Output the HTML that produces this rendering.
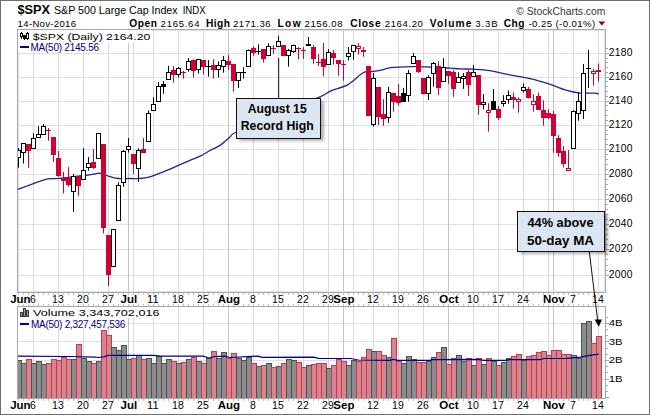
<!DOCTYPE html><html><head><meta charset="utf-8"><style>html,body{margin:0;padding:0;background:#fff}body{width:650px;height:415px;overflow:hidden}svg{display:block}text{font-family:"Liberation Sans",sans-serif}.m{font-family:"Liberation Mono",monospace}</style></head><body><svg width="650" height="415" viewBox="0 0 650 415"><rect x="0" y="0" width="650" height="415" fill="#fff"/><rect x="0.5" y="0.5" width="649" height="414" fill="none" stroke="#6e6e6e" stroke-width="1"/><text x="17.5" y="14.3" font-size="13.2" font-weight="bold" fill="#000" textLength="32.5" lengthAdjust="spacingAndGlyphs">$SPX</text><text x="54" y="14.3" font-size="11" fill="#000" textLength="123.6" lengthAdjust="spacingAndGlyphs">S&amp;P 500 Large Cap Index</text><text x="182.7" y="14.3" font-size="10" fill="#000" textLength="23" lengthAdjust="spacingAndGlyphs">INDX</text><text x="17.6" y="26.6" font-size="9.6" fill="#000" textLength="58.5" lengthAdjust="spacing">14-Nov-2016</text><text x="129.3" y="26.8" font-size="10.2" font-weight="bold" fill="#000" textLength="27.6" lengthAdjust="spacing">Open</text><text x="160.6" y="26.8" font-size="9.6"  fill="#000" textLength="38.9" lengthAdjust="spacing">2165.64</text><text x="206.0" y="26.8" font-size="10.2" font-weight="bold" fill="#000" textLength="24.0" lengthAdjust="spacing">High</text><text x="233.0" y="26.8" font-size="9.6"  fill="#000" textLength="37.6" lengthAdjust="spacing">2171.36</text><text x="277.4" y="26.8" font-size="10.2" font-weight="bold" fill="#000" textLength="23.3" lengthAdjust="spacing">Low</text><text x="304.5" y="26.8" font-size="9.6"  fill="#000" textLength="38.0" lengthAdjust="spacing">2156.08</text><text x="350.2" y="26.8" font-size="10.2" font-weight="bold" fill="#000" textLength="30.4" lengthAdjust="spacing">Close</text><text x="384.8" y="26.8" font-size="9.6"  fill="#000" textLength="38.1" lengthAdjust="spacing">2164.20</text><text x="429.7" y="26.8" font-size="10.2" font-weight="bold" fill="#000" textLength="41.8" lengthAdjust="spacing">Volume</text><text x="475.2" y="26.8" font-size="9.6"  fill="#000" textLength="22.5" lengthAdjust="spacing">3.3B</text><text x="503.8" y="26.8" font-size="10.2" font-weight="bold" fill="#000" textLength="20.7" lengthAdjust="spacing">Chg</text><text x="528.5" y="26.8" font-size="9.6"  fill="#000" textLength="66.7" lengthAdjust="spacing">-0.25 (-0.01%)</text><path d="M598.3,21.5 L605.4,21.5 L601.85,25.5 Z" fill="#a00020"/><text x="516.2" y="14.5" font-size="11" fill="#333" textLength="89.2" lengthAdjust="spacingAndGlyphs">© StockCharts.com</text><rect x="18" y="275" width="587" height="1" fill="#e0e0e0"/><rect x="18" y="249" width="587" height="1" fill="#e0e0e0"/><rect x="18" y="224" width="587" height="1" fill="#e0e0e0"/><rect x="18" y="199" width="587" height="1" fill="#e0e0e0"/><rect x="18" y="174" width="587" height="1" fill="#e0e0e0"/><rect x="18" y="149" width="587" height="1" fill="#e0e0e0"/><rect x="18" y="125" width="587" height="1" fill="#e0e0e0"/><rect x="18" y="101" width="587" height="1" fill="#e0e0e0"/><rect x="18" y="77" width="587" height="1" fill="#e0e0e0"/><rect x="18" y="53" width="587" height="1" fill="#e0e0e0"/><rect x="33" y="30" width="1" height="262" fill="#dadada"/><rect x="58" y="30" width="1" height="262" fill="#dadada"/><rect x="83" y="30" width="1" height="262" fill="#dadada"/><rect x="108" y="30" width="1" height="262" fill="#dadada"/><rect x="133" y="30" width="1" height="262" fill="#dadada"/><rect x="153" y="30" width="1" height="262" fill="#dadada"/><rect x="178" y="30" width="1" height="262" fill="#dadada"/><rect x="203" y="30" width="1" height="262" fill="#dadada"/><rect x="253" y="30" width="1" height="262" fill="#dadada"/><rect x="278" y="30" width="1" height="262" fill="#dadada"/><rect x="303" y="30" width="1" height="262" fill="#dadada"/><rect x="328" y="30" width="1" height="262" fill="#dadada"/><rect x="353" y="30" width="1" height="262" fill="#dadada"/><rect x="373" y="30" width="1" height="262" fill="#dadada"/><rect x="398" y="30" width="1" height="262" fill="#dadada"/><rect x="423" y="30" width="1" height="262" fill="#dadada"/><rect x="473" y="30" width="1" height="262" fill="#dadada"/><rect x="498" y="30" width="1" height="262" fill="#dadada"/><rect x="523" y="30" width="1" height="262" fill="#dadada"/><rect x="548" y="30" width="1" height="262" fill="#dadada"/><rect x="573" y="30" width="1" height="262" fill="#dadada"/><rect x="598" y="30" width="1" height="262" fill="#dadada"/><rect x="128" y="30" width="1" height="262" fill="#c4c4c4"/><rect x="228" y="30" width="1" height="262" fill="#c4c4c4"/><rect x="343" y="30" width="1" height="262" fill="#c4c4c4"/><rect x="448" y="30" width="1" height="262" fill="#c4c4c4"/><rect x="553" y="30" width="1" height="262" fill="#c4c4c4"/><rect x="17.5" y="29.5" width="588" height="263" fill="none" stroke="#a8a8a8" stroke-width="1"/><rect x="18.5" y="30.5" width="586" height="261" fill="none" stroke="#e4e4e4" stroke-width="1"/><rect x="606" y="275" width="3" height="1" fill="#a8a8a8"/><rect x="606" y="270" width="2" height="1" fill="#a8a8a8"/><rect x="606" y="265" width="2" height="1" fill="#a8a8a8"/><rect x="606" y="259" width="2" height="1" fill="#a8a8a8"/><rect x="606" y="254" width="2" height="1" fill="#a8a8a8"/><rect x="606" y="249" width="3" height="1" fill="#a8a8a8"/><rect x="606" y="244" width="2" height="1" fill="#a8a8a8"/><rect x="606" y="239" width="2" height="1" fill="#a8a8a8"/><rect x="606" y="234" width="2" height="1" fill="#a8a8a8"/><rect x="606" y="229" width="2" height="1" fill="#a8a8a8"/><rect x="606" y="224" width="3" height="1" fill="#a8a8a8"/><rect x="606" y="219" width="2" height="1" fill="#a8a8a8"/><rect x="606" y="214" width="2" height="1" fill="#a8a8a8"/><rect x="606" y="209" width="2" height="1" fill="#a8a8a8"/><rect x="606" y="204" width="2" height="1" fill="#a8a8a8"/><rect x="606" y="199" width="3" height="1" fill="#a8a8a8"/><rect x="606" y="194" width="2" height="1" fill="#a8a8a8"/><rect x="606" y="189" width="2" height="1" fill="#a8a8a8"/><rect x="606" y="184" width="2" height="1" fill="#a8a8a8"/><rect x="606" y="179" width="2" height="1" fill="#a8a8a8"/><rect x="606" y="174" width="3" height="1" fill="#a8a8a8"/><rect x="606" y="169" width="2" height="1" fill="#a8a8a8"/><rect x="606" y="164" width="2" height="1" fill="#a8a8a8"/><rect x="606" y="159" width="2" height="1" fill="#a8a8a8"/><rect x="606" y="154" width="2" height="1" fill="#a8a8a8"/><rect x="606" y="149" width="3" height="1" fill="#a8a8a8"/><rect x="606" y="144" width="2" height="1" fill="#a8a8a8"/><rect x="606" y="139" width="2" height="1" fill="#a8a8a8"/><rect x="606" y="134" width="2" height="1" fill="#a8a8a8"/><rect x="606" y="130" width="2" height="1" fill="#a8a8a8"/><rect x="606" y="125" width="3" height="1" fill="#a8a8a8"/><rect x="606" y="120" width="2" height="1" fill="#a8a8a8"/><rect x="606" y="115" width="2" height="1" fill="#a8a8a8"/><rect x="606" y="110" width="2" height="1" fill="#a8a8a8"/><rect x="606" y="105" width="2" height="1" fill="#a8a8a8"/><rect x="606" y="101" width="3" height="1" fill="#a8a8a8"/><rect x="606" y="96" width="2" height="1" fill="#a8a8a8"/><rect x="606" y="91" width="2" height="1" fill="#a8a8a8"/><rect x="606" y="86" width="2" height="1" fill="#a8a8a8"/><rect x="606" y="81" width="2" height="1" fill="#a8a8a8"/><rect x="606" y="77" width="3" height="1" fill="#a8a8a8"/><rect x="606" y="72" width="2" height="1" fill="#a8a8a8"/><rect x="606" y="67" width="2" height="1" fill="#a8a8a8"/><rect x="606" y="62" width="2" height="1" fill="#a8a8a8"/><rect x="606" y="58" width="2" height="1" fill="#a8a8a8"/><rect x="606" y="53" width="3" height="1" fill="#a8a8a8"/><rect x="606" y="48" width="2" height="1" fill="#a8a8a8"/><text x="608.7" y="278.0" font-size="10.3" fill="#000" textLength="23.8" lengthAdjust="spacing">2000</text><text x="608.7" y="252.4" font-size="10.3" fill="#000" textLength="23.8" lengthAdjust="spacing">2020</text><text x="608.7" y="227.0" font-size="10.3" fill="#000" textLength="23.8" lengthAdjust="spacing">2040</text><text x="608.7" y="201.8" font-size="10.3" fill="#000" textLength="23.8" lengthAdjust="spacing">2060</text><text x="608.7" y="176.9" font-size="10.3" fill="#000" textLength="23.8" lengthAdjust="spacing">2080</text><text x="608.7" y="152.3" font-size="10.3" fill="#000" textLength="23.8" lengthAdjust="spacing">2100</text><text x="608.7" y="127.8" font-size="10.3" fill="#000" textLength="23.8" lengthAdjust="spacing">2120</text><text x="608.7" y="103.6" font-size="10.3" fill="#000" textLength="23.8" lengthAdjust="spacing">2140</text><text x="608.7" y="79.7" font-size="10.3" fill="#000" textLength="23.8" lengthAdjust="spacing">2160</text><text x="608.7" y="55.9" font-size="10.3" fill="#000" textLength="23.8" lengthAdjust="spacing">2180</text><rect x="18" y="30" width="134" height="13" fill="#fff"/><rect x="18" y="43" width="83" height="9" fill="#fff"/><g fill="#000"><rect x="21" y="32" width="1" height="7"/><rect x="20" y="33" width="3" height="4"/><rect x="24" y="35" width="1" height="5"/><rect x="23" y="35" width="3" height="4"/><rect x="27" y="32" width="1" height="8"/><rect x="26" y="33" width="3" height="6"/></g><g fill="#fff"><rect x="21" y="34" width="1" height="2"/><rect x="27" y="34" width="1" height="4"/></g><text x="32.8" y="40" font-size="9.6" fill="#000" textLength="117.5" lengthAdjust="spacingAndGlyphs">$SPX (Daily) 2164.20</text><rect x="20" y="46" width="9" height="2" fill="#000099"/><text x="30.5" y="50.8" font-size="10" fill="#000090" textLength="68.5" lengthAdjust="spacing">MA(50) 2145.56</text><path fill="none" stroke="#22229a" stroke-width="1.3" d="M18.00,189.40 C22.33,187.80 38.00,181.60 44.00,179.80 C50.00,178.00 50.67,178.90 54.00,178.60 C57.33,178.30 60.67,178.32 64.00,178.00 C67.33,177.68 70.67,177.12 74.00,176.70 C77.33,176.28 80.67,175.95 84.00,175.50 C87.33,175.05 91.58,174.38 94.00,174.00 C96.42,173.62 96.83,173.15 98.50,173.20 C100.17,173.25 102.42,173.83 104.00,174.30 C105.58,174.77 105.67,175.30 108.00,176.00 C110.33,176.70 114.33,178.08 118.00,178.50 C121.67,178.92 126.33,178.50 130.00,178.50 C133.67,178.50 136.67,178.77 140.00,178.50 C143.33,178.23 146.67,177.80 150.00,176.90 C153.33,176.00 156.67,174.38 160.00,173.10 C163.33,171.82 166.67,170.62 170.00,169.20 C173.33,167.78 176.67,166.08 180.00,164.60 C183.33,163.12 186.67,161.70 190.00,160.30 C193.33,158.90 196.67,157.83 200.00,156.20 C203.33,154.57 206.67,152.30 210.00,150.50 C213.33,148.70 216.67,147.67 220.00,145.40 C223.33,143.13 227.25,139.13 230.00,136.90 C232.75,134.67 228.50,135.82 236.50,132.00 C244.50,128.18 264.08,119.85 278.00,114.00 C291.92,108.15 311.20,100.77 320.00,96.90 C328.80,93.03 326.13,92.85 330.80,90.80 C335.47,88.75 342.63,87.60 348.00,84.60 C353.37,81.60 359.17,74.95 363.00,72.80 C366.83,70.65 368.17,72.12 371.00,71.70 C373.83,71.28 376.67,70.98 380.00,70.30 C383.33,69.62 386.33,68.18 391.00,67.60 C395.67,67.02 403.83,66.95 408.00,66.80 C412.17,66.65 411.33,66.60 416.00,66.70 C420.67,66.80 430.33,67.15 436.00,67.40 C441.67,67.65 445.83,67.95 450.00,68.20 C454.17,68.45 457.17,68.73 461.00,68.90 C464.83,69.07 468.17,68.92 473.00,69.20 C477.83,69.48 484.50,69.77 490.00,70.60 C495.50,71.43 499.33,72.87 506.00,74.20 C512.67,75.53 522.50,76.87 530.00,78.60 C537.50,80.33 545.00,82.67 551.00,84.60 C557.00,86.53 561.17,88.78 566.00,90.20 C570.83,91.62 575.17,92.62 580.00,93.10 C584.83,93.58 591.90,92.90 595.00,93.10 C598.10,93.30 598.00,94.10 598.60,94.30"/><defs><clipPath id="pc"><rect x="18" y="30" width="587" height="262"/></clipPath><clipPath id="vc"><rect x="18" y="307" width="587" height="91"/></clipPath></defs><g clip-path="url(#pc)"><rect x="18" y="148.0" width="1" height="19.7" fill="#000000"/><rect x="16.5" y="150.5" width="4" height="7" fill="#fff" stroke="#000000" stroke-width="1"/><rect x="23" y="143.2" width="1" height="20.3" fill="#000000"/><rect x="21.5" y="143.5" width="4" height="9" fill="#fff" stroke="#000000" stroke-width="1"/><rect x="28" y="144.0" width="1" height="23.7" fill="#d00032"/><rect x="26" y="144" width="5" height="7" fill="#d00032"/><rect x="33" y="133.2" width="1" height="15.2" fill="#000000"/><rect x="31.5" y="138.5" width="4" height="10" fill="#fff" stroke="#000000" stroke-width="1"/><rect x="38" y="126.1" width="1" height="11.4" fill="#000000"/><rect x="36.5" y="134.5" width="4" height="3" fill="#fff" stroke="#000000" stroke-width="1"/><rect x="43" y="124.0" width="1" height="10.5" fill="#000000"/><rect x="41.5" y="126.5" width="4" height="8" fill="#fff" stroke="#000000" stroke-width="1"/><rect x="48" y="128.0" width="1" height="12.8" fill="#d00032"/><rect x="46" y="130" width="5" height="1" fill="#d00032"/><rect x="53" y="137.0" width="1" height="24.9" fill="#d00032"/><rect x="51" y="137" width="5" height="18" fill="#d00032"/><rect x="58" y="151.1" width="1" height="25.6" fill="#d00032"/><rect x="56" y="158" width="5" height="18" fill="#d00032"/><rect x="63" y="171.9" width="1" height="21.6" fill="#d00032"/><rect x="61" y="178" width="5" height="3" fill="#d00032"/><rect x="68" y="167.1" width="1" height="19.5" fill="#d00032"/><rect x="66" y="178" width="5" height="7" fill="#d00032"/><rect x="73" y="174.1" width="1" height="37.8" fill="#000000"/><rect x="71.5" y="176.5" width="4" height="15" fill="#fff" stroke="#000000" stroke-width="1"/><rect x="78" y="176.7" width="1" height="19.0" fill="#d00032"/><rect x="76" y="176" width="5" height="10" fill="#d00032"/><rect x="83" y="148.2" width="1" height="31.3" fill="#000000"/><rect x="81.5" y="170.5" width="4" height="9" fill="#fff" stroke="#000000" stroke-width="1"/><rect x="88" y="157.1" width="1" height="13.6" fill="#000000"/><rect x="86.5" y="163.5" width="4" height="4" fill="#fff" stroke="#000000" stroke-width="1"/><rect x="93" y="149.0" width="1" height="19.9" fill="#d00032"/><rect x="91" y="162" width="5" height="6" fill="#d00032"/><rect x="98" y="133.3" width="1" height="25.3" fill="#000000"/><rect x="96.5" y="133.5" width="4" height="25" fill="#fff" stroke="#000000" stroke-width="1"/><rect x="103" y="144.1" width="1" height="89.4" fill="#d00032"/><rect x="101" y="144" width="5" height="84" fill="#d00032"/><rect x="108" y="235.3" width="1" height="50.7" fill="#d00032"/><rect x="106" y="235" width="5" height="40" fill="#d00032"/><rect x="113" y="229.3" width="1" height="37.1" fill="#000000"/><rect x="111.5" y="229.5" width="4" height="37" fill="#fff" stroke="#000000" stroke-width="1"/><rect x="118" y="182.2" width="1" height="38.4" fill="#000000"/><rect x="116.5" y="185.5" width="4" height="35" fill="#fff" stroke="#000000" stroke-width="1"/><rect x="123" y="150.1" width="1" height="36.6" fill="#000000"/><rect x="121.5" y="151.5" width="4" height="31" fill="#fff" stroke="#000000" stroke-width="1"/><rect x="128" y="138.1" width="1" height="14.4" fill="#000000"/><rect x="126.5" y="146.5" width="4" height="3" fill="#fff" stroke="#000000" stroke-width="1"/><rect x="133" y="154.9" width="1" height="19.1" fill="#d00032"/><rect x="131" y="154" width="5" height="10" fill="#d00032"/><rect x="138" y="148.3" width="1" height="33.6" fill="#000000"/><rect x="136.5" y="150.5" width="4" height="18" fill="#fff" stroke="#000000" stroke-width="1"/><rect x="143" y="138.0" width="1" height="14.8" fill="#d00032"/><rect x="141" y="149" width="5" height="4" fill="#d00032"/><rect x="148" y="110.5" width="1" height="31.1" fill="#000000"/><rect x="146.5" y="113.5" width="4" height="28" fill="#fff" stroke="#000000" stroke-width="1"/><rect x="153" y="97.3" width="1" height="13.2" fill="#000000"/><rect x="151.5" y="104.5" width="4" height="6" fill="#fff" stroke="#000000" stroke-width="1"/><rect x="158" y="82.0" width="1" height="19.6" fill="#000000"/><rect x="156.5" y="86.5" width="4" height="15" fill="#fff" stroke="#000000" stroke-width="1"/><rect x="163" y="81.1" width="1" height="12.6" fill="#000000"/><rect x="161" y="84" width="5" height="3" fill="#000000"/><rect x="168" y="65.8" width="1" height="13.7" fill="#000000"/><rect x="166.5" y="72.5" width="4" height="7" fill="#fff" stroke="#000000" stroke-width="1"/><rect x="173" y="66.0" width="1" height="16.7" fill="#d00032"/><rect x="171" y="70" width="5" height="5" fill="#d00032"/><rect x="178" y="67.0" width="1" height="10.5" fill="#000000"/><rect x="176.5" y="68.5" width="4" height="6" fill="#fff" stroke="#000000" stroke-width="1"/><rect x="183" y="70.8" width="1" height="7.9" fill="#d00032"/><rect x="181" y="72" width="5" height="1" fill="#d00032"/><rect x="188" y="58.0" width="1" height="13.7" fill="#000000"/><rect x="186.5" y="61.5" width="4" height="8" fill="#fff" stroke="#000000" stroke-width="1"/><rect x="193" y="59.2" width="1" height="18.3" fill="#d00032"/><rect x="191" y="60" width="5" height="11" fill="#d00032"/><rect x="198" y="59.2" width="1" height="14.5" fill="#000000"/><rect x="196.5" y="59.5" width="4" height="10" fill="#fff" stroke="#000000" stroke-width="1"/><rect x="203" y="60.1" width="1" height="14.4" fill="#d00032"/><rect x="201" y="60" width="5" height="7" fill="#d00032"/><rect x="208" y="60.1" width="1" height="16.5" fill="#000000"/><rect x="206" y="66" width="5" height="1" fill="#000000"/><rect x="213" y="59.2" width="1" height="19.3" fill="#d00032"/><rect x="211" y="65" width="5" height="5" fill="#d00032"/><rect x="218" y="61.3" width="1" height="16.2" fill="#000000"/><rect x="216.5" y="65.5" width="4" height="4" fill="#fff" stroke="#000000" stroke-width="1"/><rect x="223" y="56.1" width="1" height="16.6" fill="#000000"/><rect x="221.5" y="60.5" width="4" height="6" fill="#fff" stroke="#000000" stroke-width="1"/><rect x="228" y="55.2" width="1" height="14.5" fill="#d00032"/><rect x="226" y="61" width="5" height="4" fill="#d00032"/><rect x="233" y="64.9" width="1" height="26.8" fill="#d00032"/><rect x="231" y="64" width="5" height="17" fill="#d00032"/><rect x="238" y="72.6" width="1" height="15.4" fill="#000000"/><rect x="236.5" y="72.5" width="4" height="8" fill="#fff" stroke="#000000" stroke-width="1"/><rect x="243" y="67.3" width="1" height="11.1" fill="#000000"/><rect x="241" y="72" width="5" height="1" fill="#000000"/><rect x="248" y="49.5" width="1" height="17.1" fill="#000000"/><rect x="246.5" y="50.5" width="4" height="16" fill="#fff" stroke="#000000" stroke-width="1"/><rect x="253" y="46.4" width="1" height="9.3" fill="#d00032"/><rect x="251" y="48" width="5" height="5" fill="#d00032"/><rect x="258" y="44.4" width="1" height="10.1" fill="#000000"/><rect x="256" y="51" width="5" height="1" fill="#000000"/><rect x="263" y="49.5" width="1" height="13.2" fill="#d00032"/><rect x="261" y="49" width="5" height="10" fill="#d00032"/><rect x="268" y="43.4" width="1" height="11.8" fill="#000000"/><rect x="266.5" y="46.5" width="4" height="9" fill="#fff" stroke="#000000" stroke-width="1"/><rect x="273" y="45.2" width="1" height="8.5" fill="#d00032"/><rect x="271" y="48" width="5" height="1" fill="#d00032"/><rect x="278" y="35.8" width="1" height="10.5" fill="#000000"/><rect x="276.5" y="41.5" width="4" height="5" fill="#fff" stroke="#000000" stroke-width="1"/><rect x="283" y="45.1" width="1" height="10.4" fill="#d00032"/><rect x="281" y="45" width="5" height="11" fill="#d00032"/><rect x="288" y="49.0" width="1" height="17.7" fill="#000000"/><rect x="286.5" y="50.5" width="4" height="5" fill="#fff" stroke="#000000" stroke-width="1"/><rect x="293" y="44.5" width="1" height="8.4" fill="#000000"/><rect x="291.5" y="45.5" width="4" height="6" fill="#fff" stroke="#000000" stroke-width="1"/><rect x="298" y="47.1" width="1" height="12.4" fill="#d00032"/><rect x="296" y="48" width="5" height="1" fill="#d00032"/><rect x="303" y="47.1" width="1" height="11.8" fill="#d00032"/><rect x="301" y="50" width="5" height="1" fill="#d00032"/><rect x="308" y="37.0" width="1" height="8.4" fill="#000000"/><rect x="306" y="44" width="5" height="2" fill="#000000"/><rect x="313" y="45.1" width="1" height="18.6" fill="#d00032"/><rect x="311" y="47" width="5" height="12" fill="#d00032"/><rect x="318" y="54.1" width="1" height="11.8" fill="#d00032"/><rect x="316" y="62" width="5" height="1" fill="#d00032"/><rect x="323" y="43.0" width="1" height="33.4" fill="#d00032"/><rect x="321" y="59" width="5" height="8" fill="#d00032"/><rect x="328" y="49.2" width="1" height="15.0" fill="#000000"/><rect x="326.5" y="52.5" width="4" height="12" fill="#fff" stroke="#000000" stroke-width="1"/><rect x="333" y="50.1" width="1" height="14.4" fill="#d00032"/><rect x="331" y="53" width="5" height="5" fill="#d00032"/><rect x="338" y="60.1" width="1" height="15.6" fill="#d00032"/><rect x="336" y="60" width="5" height="4" fill="#d00032"/><rect x="343" y="60.3" width="1" height="20.5" fill="#d00032"/><rect x="341" y="64" width="5" height="1" fill="#d00032"/><rect x="348" y="47.0" width="1" height="13.5" fill="#000000"/><rect x="346.5" y="53.5" width="4" height="3" fill="#fff" stroke="#000000" stroke-width="1"/><rect x="353" y="45.6" width="1" height="14.1" fill="#000000"/><rect x="351.5" y="45.5" width="4" height="6" fill="#fff" stroke="#000000" stroke-width="1"/><rect x="358" y="43.2" width="1" height="11.3" fill="#d00032"/><rect x="356.5" y="46.5" width="4" height="2" fill="#fff" stroke="#d00032" stroke-width="1"/><rect x="363" y="47.0" width="1" height="9.7" fill="#d00032"/><rect x="361" y="50" width="5" height="2" fill="#d00032"/><rect x="368" y="66.1" width="1" height="49.7" fill="#d00032"/><rect x="366" y="66" width="5" height="50" fill="#d00032"/><rect x="373" y="73.1" width="1" height="53.5" fill="#000000"/><rect x="371.5" y="78.5" width="4" height="46" fill="#fff" stroke="#000000" stroke-width="1"/><rect x="378" y="87.8" width="1" height="37.1" fill="#d00032"/><rect x="376" y="87" width="5" height="30" fill="#d00032"/><rect x="383" y="99.2" width="1" height="26.5" fill="#d00032"/><rect x="381" y="114" width="5" height="5" fill="#d00032"/><rect x="388" y="86.9" width="1" height="35.8" fill="#000000"/><rect x="386.5" y="92.5" width="4" height="25" fill="#fff" stroke="#000000" stroke-width="1"/><rect x="393" y="93.0" width="1" height="18.6" fill="#d00032"/><rect x="391" y="93" width="5" height="9" fill="#d00032"/><rect x="398" y="83.9" width="1" height="21.7" fill="#d00032"/><rect x="396" y="96" width="5" height="7" fill="#d00032"/><rect x="403" y="87.8" width="1" height="13.5" fill="#000000"/><rect x="401" y="93" width="5" height="9" fill="#000000"/><rect x="408" y="70.1" width="1" height="31.5" fill="#000000"/><rect x="406.5" y="73.5" width="4" height="22" fill="#fff" stroke="#000000" stroke-width="1"/><rect x="413" y="53.0" width="1" height="10.3" fill="#000000"/><rect x="411.5" y="56.5" width="4" height="7" fill="#fff" stroke="#000000" stroke-width="1"/><rect x="418" y="60.2" width="1" height="12.7" fill="#d00032"/><rect x="416" y="60" width="5" height="12" fill="#d00032"/><rect x="423" y="78.0" width="1" height="16.5" fill="#d00032"/><rect x="421" y="78" width="5" height="16" fill="#d00032"/><rect x="428" y="75.3" width="1" height="24.6" fill="#000000"/><rect x="426.5" y="77.5" width="4" height="16" fill="#fff" stroke="#000000" stroke-width="1"/><rect x="433" y="62.0" width="1" height="24.6" fill="#000000"/><rect x="431.5" y="63.5" width="4" height="10" fill="#fff" stroke="#000000" stroke-width="1"/><rect x="438" y="61.1" width="1" height="34.0" fill="#d00032"/><rect x="436" y="66" width="5" height="22" fill="#d00032"/><rect x="443" y="58.2" width="1" height="22.9" fill="#000000"/><rect x="441.5" y="67.5" width="4" height="14" fill="#fff" stroke="#000000" stroke-width="1"/><rect x="448" y="71.4" width="1" height="12.3" fill="#d00032"/><rect x="446" y="71" width="5" height="5" fill="#d00032"/><rect x="453" y="70.2" width="1" height="26.7" fill="#d00032"/><rect x="451" y="72" width="5" height="17" fill="#d00032"/><rect x="458" y="72.2" width="1" height="10.1" fill="#000000"/><rect x="456.5" y="77.5" width="4" height="5" fill="#fff" stroke="#000000" stroke-width="1"/><rect x="463" y="73.0" width="1" height="15.9" fill="#000000"/><rect x="461.5" y="76.5" width="4" height="2" fill="#fff" stroke="#000000" stroke-width="1"/><rect x="468" y="70.2" width="1" height="25.7" fill="#d00032"/><rect x="466" y="72" width="5" height="13" fill="#d00032"/><rect x="473" y="65.1" width="1" height="11.2" fill="#000000"/><rect x="471.5" y="72.5" width="4" height="4" fill="#fff" stroke="#000000" stroke-width="1"/><rect x="478" y="75.1" width="1" height="39.8" fill="#d00032"/><rect x="476" y="75" width="5" height="30" fill="#d00032"/><rect x="483" y="94.0" width="1" height="15.5" fill="#000000"/><rect x="481.5" y="102.5" width="4" height="2" fill="#fff" stroke="#000000" stroke-width="1"/><rect x="488" y="103.2" width="1" height="28.5" fill="#d00032"/><rect x="486.5" y="110.5" width="4" height="2" fill="#fff" stroke="#d00032" stroke-width="1"/><rect x="493" y="88.9" width="1" height="20.6" fill="#000000"/><rect x="491" y="101" width="5" height="9" fill="#000000"/><rect x="498" y="106.1" width="1" height="14.0" fill="#d00032"/><rect x="496" y="109" width="5" height="9" fill="#d00032"/><rect x="503" y="95.2" width="1" height="11.4" fill="#000000"/><rect x="501.5" y="101.5" width="4" height="2" fill="#fff" stroke="#000000" stroke-width="1"/><rect x="508" y="90.4" width="1" height="13.3" fill="#000000"/><rect x="506.5" y="95.5" width="4" height="4" fill="#fff" stroke="#000000" stroke-width="1"/><rect x="513" y="92.5" width="1" height="16.2" fill="#d00032"/><rect x="511" y="97" width="5" height="3" fill="#d00032"/><rect x="518" y="97.3" width="1" height="15.3" fill="#d00032"/><rect x="516.5" y="99.5" width="4" height="2" fill="#fff" stroke="#d00032" stroke-width="1"/><rect x="523" y="83.4" width="1" height="9.1" fill="#000000"/><rect x="521.5" y="87.5" width="4" height="3" fill="#fff" stroke="#000000" stroke-width="1"/><rect x="528" y="87.0" width="1" height="11.5" fill="#d00032"/><rect x="526" y="89" width="5" height="9" fill="#d00032"/><rect x="533" y="94.3" width="1" height="17.4" fill="#d00032"/><rect x="531.5" y="101.5" width="4" height="3" fill="#fff" stroke="#d00032" stroke-width="1"/><rect x="538" y="92.5" width="1" height="17.2" fill="#d00032"/><rect x="536" y="96" width="5" height="14" fill="#d00032"/><rect x="543" y="100.3" width="1" height="25.4" fill="#d00032"/><rect x="541" y="110" width="5" height="8" fill="#d00032"/><rect x="548" y="109.3" width="1" height="9.6" fill="#d00032"/><rect x="546" y="113" width="5" height="5" fill="#d00032"/><rect x="553" y="111.0" width="1" height="41.8" fill="#d00032"/><rect x="551" y="114" width="5" height="22" fill="#d00032"/><rect x="558" y="135.1" width="1" height="21.8" fill="#d00032"/><rect x="556" y="138" width="5" height="15" fill="#d00032"/><rect x="563" y="146.1" width="1" height="21.4" fill="#d00032"/><rect x="561" y="151" width="5" height="13" fill="#d00032"/><rect x="568" y="150.1" width="1" height="19.5" fill="#d00032"/><rect x="566.5" y="168.5" width="4" height="2" fill="#fff" stroke="#d00032" stroke-width="1"/><rect x="573" y="110.4" width="1" height="38.1" fill="#000000"/><rect x="571.5" y="111.5" width="4" height="37" fill="#fff" stroke="#000000" stroke-width="1"/><rect x="578" y="92.2" width="1" height="28.5" fill="#000000"/><rect x="576.5" y="101.5" width="4" height="12" fill="#fff" stroke="#000000" stroke-width="1"/><rect x="583" y="64.1" width="1" height="54.8" fill="#000000"/><rect x="581.5" y="73.5" width="4" height="37" fill="#fff" stroke="#000000" stroke-width="1"/><rect x="588" y="50.1" width="1" height="37.7" fill="#000000"/><rect x="586" y="68" width="5" height="1" fill="#000000"/><rect x="593" y="68.9" width="1" height="16.7" fill="#d00032"/><rect x="591.5" y="71.5" width="4" height="2" fill="#fff" stroke="#d00032" stroke-width="1"/><rect x="598" y="63.5" width="1" height="18.2" fill="#d00032"/><rect x="596" y="70" width="5" height="2" fill="#d00032"/></g><rect x="278" y="58" width="1.2" height="40" fill="#333"/><rect x="239" y="101" width="85" height="40" fill="#000" opacity="0.3" filter="url(#blur)"/><defs><filter id="blur" x="-20%" y="-20%" width="140%" height="140%"><feGaussianBlur stdDeviation="1.5"/></filter></defs><rect x="236.5" y="98.5" width="84" height="40" fill="#dce6f2" stroke="#111" stroke-width="1"/><text x="277.2" y="112.9" font-size="13" font-weight="bold" fill="#000" text-anchor="middle" textLength="59" lengthAdjust="spacingAndGlyphs">August 15</text><text x="277.2" y="130.4" font-size="13" font-weight="bold" fill="#000" text-anchor="middle" textLength="73" lengthAdjust="spacingAndGlyphs">Record High</text><text x="10.2" y="303.2" font-size="11.5" font-weight="bold" fill="#000">Jun</text><text x="128.9" y="303.2" font-size="11.5" font-weight="bold" fill="#000" text-anchor="middle">Jul</text><text x="228.9" y="303.2" font-size="11.5" font-weight="bold" fill="#000" text-anchor="middle">Aug</text><text x="343.9" y="303.2" font-size="11.5" font-weight="bold" fill="#000" text-anchor="middle">Sep</text><text x="448.9" y="303.2" font-size="11.5" font-weight="bold" fill="#000" text-anchor="middle">Oct</text><text x="553.9" y="303.2" font-size="11.5" font-weight="bold" fill="#000" text-anchor="middle">Nov</text><text x="32.9" y="303.2" font-size="10" fill="#000" text-anchor="middle" textLength="5.8" lengthAdjust="spacingAndGlyphs">6</text><text x="57.9" y="303.2" font-size="10" fill="#000" text-anchor="middle" textLength="11.6" lengthAdjust="spacingAndGlyphs">13</text><text x="82.9" y="303.2" font-size="10" fill="#000" text-anchor="middle" textLength="11.6" lengthAdjust="spacingAndGlyphs">20</text><text x="107.9" y="303.2" font-size="10" fill="#000" text-anchor="middle" textLength="11.6" lengthAdjust="spacingAndGlyphs">27</text><text x="152.9" y="303.2" font-size="10" fill="#000" text-anchor="middle" textLength="11.6" lengthAdjust="spacingAndGlyphs">11</text><text x="177.9" y="303.2" font-size="10" fill="#000" text-anchor="middle" textLength="11.6" lengthAdjust="spacingAndGlyphs">18</text><text x="202.9" y="303.2" font-size="10" fill="#000" text-anchor="middle" textLength="11.6" lengthAdjust="spacingAndGlyphs">25</text><text x="252.9" y="303.2" font-size="10" fill="#000" text-anchor="middle" textLength="5.8" lengthAdjust="spacingAndGlyphs">8</text><text x="277.9" y="303.2" font-size="10" fill="#000" text-anchor="middle" textLength="11.6" lengthAdjust="spacingAndGlyphs">15</text><text x="302.9" y="303.2" font-size="10" fill="#000" text-anchor="middle" textLength="11.6" lengthAdjust="spacingAndGlyphs">22</text><text x="327.9" y="303.2" font-size="10" fill="#000" text-anchor="middle" textLength="11.6" lengthAdjust="spacingAndGlyphs">29</text><text x="372.9" y="303.2" font-size="10" fill="#000" text-anchor="middle" textLength="11.6" lengthAdjust="spacingAndGlyphs">12</text><text x="397.9" y="303.2" font-size="10" fill="#000" text-anchor="middle" textLength="11.6" lengthAdjust="spacingAndGlyphs">19</text><text x="422.9" y="303.2" font-size="10" fill="#000" text-anchor="middle" textLength="11.6" lengthAdjust="spacingAndGlyphs">26</text><text x="472.9" y="303.2" font-size="10" fill="#000" text-anchor="middle" textLength="11.6" lengthAdjust="spacingAndGlyphs">10</text><text x="497.9" y="303.2" font-size="10" fill="#000" text-anchor="middle" textLength="11.6" lengthAdjust="spacingAndGlyphs">17</text><text x="522.9" y="303.2" font-size="10" fill="#000" text-anchor="middle" textLength="11.6" lengthAdjust="spacingAndGlyphs">24</text><text x="572.9" y="303.2" font-size="10" fill="#000" text-anchor="middle" textLength="5.8" lengthAdjust="spacingAndGlyphs">7</text><text x="597.9" y="303.2" font-size="10" fill="#000" text-anchor="middle" textLength="11.6" lengthAdjust="spacingAndGlyphs">14</text><text x="10.2" y="409.2" font-size="11.5" font-weight="bold" fill="#000">Jun</text><text x="128.9" y="409.2" font-size="11.5" font-weight="bold" fill="#000" text-anchor="middle">Jul</text><text x="228.9" y="409.2" font-size="11.5" font-weight="bold" fill="#000" text-anchor="middle">Aug</text><text x="343.9" y="409.2" font-size="11.5" font-weight="bold" fill="#000" text-anchor="middle">Sep</text><text x="448.9" y="409.2" font-size="11.5" font-weight="bold" fill="#000" text-anchor="middle">Oct</text><text x="553.9" y="409.2" font-size="11.5" font-weight="bold" fill="#000" text-anchor="middle">Nov</text><text x="32.9" y="409.2" font-size="10" fill="#000" text-anchor="middle" textLength="5.8" lengthAdjust="spacingAndGlyphs">6</text><text x="57.9" y="409.2" font-size="10" fill="#000" text-anchor="middle" textLength="11.6" lengthAdjust="spacingAndGlyphs">13</text><text x="82.9" y="409.2" font-size="10" fill="#000" text-anchor="middle" textLength="11.6" lengthAdjust="spacingAndGlyphs">20</text><text x="107.9" y="409.2" font-size="10" fill="#000" text-anchor="middle" textLength="11.6" lengthAdjust="spacingAndGlyphs">27</text><text x="152.9" y="409.2" font-size="10" fill="#000" text-anchor="middle" textLength="11.6" lengthAdjust="spacingAndGlyphs">11</text><text x="177.9" y="409.2" font-size="10" fill="#000" text-anchor="middle" textLength="11.6" lengthAdjust="spacingAndGlyphs">18</text><text x="202.9" y="409.2" font-size="10" fill="#000" text-anchor="middle" textLength="11.6" lengthAdjust="spacingAndGlyphs">25</text><text x="252.9" y="409.2" font-size="10" fill="#000" text-anchor="middle" textLength="5.8" lengthAdjust="spacingAndGlyphs">8</text><text x="277.9" y="409.2" font-size="10" fill="#000" text-anchor="middle" textLength="11.6" lengthAdjust="spacingAndGlyphs">15</text><text x="302.9" y="409.2" font-size="10" fill="#000" text-anchor="middle" textLength="11.6" lengthAdjust="spacingAndGlyphs">22</text><text x="327.9" y="409.2" font-size="10" fill="#000" text-anchor="middle" textLength="11.6" lengthAdjust="spacingAndGlyphs">29</text><text x="372.9" y="409.2" font-size="10" fill="#000" text-anchor="middle" textLength="11.6" lengthAdjust="spacingAndGlyphs">12</text><text x="397.9" y="409.2" font-size="10" fill="#000" text-anchor="middle" textLength="11.6" lengthAdjust="spacingAndGlyphs">19</text><text x="422.9" y="409.2" font-size="10" fill="#000" text-anchor="middle" textLength="11.6" lengthAdjust="spacingAndGlyphs">26</text><text x="472.9" y="409.2" font-size="10" fill="#000" text-anchor="middle" textLength="11.6" lengthAdjust="spacingAndGlyphs">10</text><text x="497.9" y="409.2" font-size="10" fill="#000" text-anchor="middle" textLength="11.6" lengthAdjust="spacingAndGlyphs">17</text><text x="522.9" y="409.2" font-size="10" fill="#000" text-anchor="middle" textLength="11.6" lengthAdjust="spacingAndGlyphs">24</text><text x="572.9" y="409.2" font-size="10" fill="#000" text-anchor="middle" textLength="5.8" lengthAdjust="spacingAndGlyphs">7</text><text x="597.9" y="409.2" font-size="10" fill="#000" text-anchor="middle" textLength="11.6" lengthAdjust="spacingAndGlyphs">14</text><rect x="18" y="293" width="1" height="2" fill="#c0c0c0"/><rect x="18" y="304" width="1" height="2" fill="#c0c0c0"/><rect x="18" y="399" width="1" height="2" fill="#c0c0c0"/><rect x="23" y="293" width="1" height="2" fill="#c0c0c0"/><rect x="23" y="304" width="1" height="2" fill="#c0c0c0"/><rect x="23" y="399" width="1" height="2" fill="#c0c0c0"/><rect x="28" y="293" width="1" height="2" fill="#c0c0c0"/><rect x="28" y="304" width="1" height="2" fill="#c0c0c0"/><rect x="28" y="399" width="1" height="2" fill="#c0c0c0"/><rect x="33" y="293" width="1" height="2" fill="#c0c0c0"/><rect x="33" y="304" width="1" height="2" fill="#c0c0c0"/><rect x="33" y="399" width="1" height="2" fill="#c0c0c0"/><rect x="38" y="293" width="1" height="2" fill="#c0c0c0"/><rect x="38" y="304" width="1" height="2" fill="#c0c0c0"/><rect x="38" y="399" width="1" height="2" fill="#c0c0c0"/><rect x="43" y="293" width="1" height="2" fill="#c0c0c0"/><rect x="43" y="304" width="1" height="2" fill="#c0c0c0"/><rect x="43" y="399" width="1" height="2" fill="#c0c0c0"/><rect x="48" y="293" width="1" height="2" fill="#c0c0c0"/><rect x="48" y="304" width="1" height="2" fill="#c0c0c0"/><rect x="48" y="399" width="1" height="2" fill="#c0c0c0"/><rect x="53" y="293" width="1" height="2" fill="#c0c0c0"/><rect x="53" y="304" width="1" height="2" fill="#c0c0c0"/><rect x="53" y="399" width="1" height="2" fill="#c0c0c0"/><rect x="58" y="293" width="1" height="2" fill="#c0c0c0"/><rect x="58" y="304" width="1" height="2" fill="#c0c0c0"/><rect x="58" y="399" width="1" height="2" fill="#c0c0c0"/><rect x="63" y="293" width="1" height="2" fill="#c0c0c0"/><rect x="63" y="304" width="1" height="2" fill="#c0c0c0"/><rect x="63" y="399" width="1" height="2" fill="#c0c0c0"/><rect x="68" y="293" width="1" height="2" fill="#c0c0c0"/><rect x="68" y="304" width="1" height="2" fill="#c0c0c0"/><rect x="68" y="399" width="1" height="2" fill="#c0c0c0"/><rect x="73" y="293" width="1" height="2" fill="#c0c0c0"/><rect x="73" y="304" width="1" height="2" fill="#c0c0c0"/><rect x="73" y="399" width="1" height="2" fill="#c0c0c0"/><rect x="78" y="293" width="1" height="2" fill="#c0c0c0"/><rect x="78" y="304" width="1" height="2" fill="#c0c0c0"/><rect x="78" y="399" width="1" height="2" fill="#c0c0c0"/><rect x="83" y="293" width="1" height="2" fill="#c0c0c0"/><rect x="83" y="304" width="1" height="2" fill="#c0c0c0"/><rect x="83" y="399" width="1" height="2" fill="#c0c0c0"/><rect x="88" y="293" width="1" height="2" fill="#c0c0c0"/><rect x="88" y="304" width="1" height="2" fill="#c0c0c0"/><rect x="88" y="399" width="1" height="2" fill="#c0c0c0"/><rect x="93" y="293" width="1" height="2" fill="#c0c0c0"/><rect x="93" y="304" width="1" height="2" fill="#c0c0c0"/><rect x="93" y="399" width="1" height="2" fill="#c0c0c0"/><rect x="98" y="293" width="1" height="2" fill="#c0c0c0"/><rect x="98" y="304" width="1" height="2" fill="#c0c0c0"/><rect x="98" y="399" width="1" height="2" fill="#c0c0c0"/><rect x="103" y="293" width="1" height="2" fill="#c0c0c0"/><rect x="103" y="304" width="1" height="2" fill="#c0c0c0"/><rect x="103" y="399" width="1" height="2" fill="#c0c0c0"/><rect x="108" y="293" width="1" height="2" fill="#c0c0c0"/><rect x="108" y="304" width="1" height="2" fill="#c0c0c0"/><rect x="108" y="399" width="1" height="2" fill="#c0c0c0"/><rect x="113" y="293" width="1" height="2" fill="#c0c0c0"/><rect x="113" y="304" width="1" height="2" fill="#c0c0c0"/><rect x="113" y="399" width="1" height="2" fill="#c0c0c0"/><rect x="118" y="293" width="1" height="2" fill="#c0c0c0"/><rect x="118" y="304" width="1" height="2" fill="#c0c0c0"/><rect x="118" y="399" width="1" height="2" fill="#c0c0c0"/><rect x="123" y="293" width="1" height="2" fill="#c0c0c0"/><rect x="123" y="304" width="1" height="2" fill="#c0c0c0"/><rect x="123" y="399" width="1" height="2" fill="#c0c0c0"/><rect x="128" y="293" width="1" height="2" fill="#c0c0c0"/><rect x="128" y="304" width="1" height="2" fill="#c0c0c0"/><rect x="128" y="399" width="1" height="2" fill="#c0c0c0"/><rect x="133" y="293" width="1" height="2" fill="#c0c0c0"/><rect x="133" y="304" width="1" height="2" fill="#c0c0c0"/><rect x="133" y="399" width="1" height="2" fill="#c0c0c0"/><rect x="138" y="293" width="1" height="2" fill="#c0c0c0"/><rect x="138" y="304" width="1" height="2" fill="#c0c0c0"/><rect x="138" y="399" width="1" height="2" fill="#c0c0c0"/><rect x="143" y="293" width="1" height="2" fill="#c0c0c0"/><rect x="143" y="304" width="1" height="2" fill="#c0c0c0"/><rect x="143" y="399" width="1" height="2" fill="#c0c0c0"/><rect x="148" y="293" width="1" height="2" fill="#c0c0c0"/><rect x="148" y="304" width="1" height="2" fill="#c0c0c0"/><rect x="148" y="399" width="1" height="2" fill="#c0c0c0"/><rect x="153" y="293" width="1" height="2" fill="#c0c0c0"/><rect x="153" y="304" width="1" height="2" fill="#c0c0c0"/><rect x="153" y="399" width="1" height="2" fill="#c0c0c0"/><rect x="158" y="293" width="1" height="2" fill="#c0c0c0"/><rect x="158" y="304" width="1" height="2" fill="#c0c0c0"/><rect x="158" y="399" width="1" height="2" fill="#c0c0c0"/><rect x="163" y="293" width="1" height="2" fill="#c0c0c0"/><rect x="163" y="304" width="1" height="2" fill="#c0c0c0"/><rect x="163" y="399" width="1" height="2" fill="#c0c0c0"/><rect x="168" y="293" width="1" height="2" fill="#c0c0c0"/><rect x="168" y="304" width="1" height="2" fill="#c0c0c0"/><rect x="168" y="399" width="1" height="2" fill="#c0c0c0"/><rect x="173" y="293" width="1" height="2" fill="#c0c0c0"/><rect x="173" y="304" width="1" height="2" fill="#c0c0c0"/><rect x="173" y="399" width="1" height="2" fill="#c0c0c0"/><rect x="178" y="293" width="1" height="2" fill="#c0c0c0"/><rect x="178" y="304" width="1" height="2" fill="#c0c0c0"/><rect x="178" y="399" width="1" height="2" fill="#c0c0c0"/><rect x="183" y="293" width="1" height="2" fill="#c0c0c0"/><rect x="183" y="304" width="1" height="2" fill="#c0c0c0"/><rect x="183" y="399" width="1" height="2" fill="#c0c0c0"/><rect x="188" y="293" width="1" height="2" fill="#c0c0c0"/><rect x="188" y="304" width="1" height="2" fill="#c0c0c0"/><rect x="188" y="399" width="1" height="2" fill="#c0c0c0"/><rect x="193" y="293" width="1" height="2" fill="#c0c0c0"/><rect x="193" y="304" width="1" height="2" fill="#c0c0c0"/><rect x="193" y="399" width="1" height="2" fill="#c0c0c0"/><rect x="198" y="293" width="1" height="2" fill="#c0c0c0"/><rect x="198" y="304" width="1" height="2" fill="#c0c0c0"/><rect x="198" y="399" width="1" height="2" fill="#c0c0c0"/><rect x="203" y="293" width="1" height="2" fill="#c0c0c0"/><rect x="203" y="304" width="1" height="2" fill="#c0c0c0"/><rect x="203" y="399" width="1" height="2" fill="#c0c0c0"/><rect x="208" y="293" width="1" height="2" fill="#c0c0c0"/><rect x="208" y="304" width="1" height="2" fill="#c0c0c0"/><rect x="208" y="399" width="1" height="2" fill="#c0c0c0"/><rect x="213" y="293" width="1" height="2" fill="#c0c0c0"/><rect x="213" y="304" width="1" height="2" fill="#c0c0c0"/><rect x="213" y="399" width="1" height="2" fill="#c0c0c0"/><rect x="218" y="293" width="1" height="2" fill="#c0c0c0"/><rect x="218" y="304" width="1" height="2" fill="#c0c0c0"/><rect x="218" y="399" width="1" height="2" fill="#c0c0c0"/><rect x="223" y="293" width="1" height="2" fill="#c0c0c0"/><rect x="223" y="304" width="1" height="2" fill="#c0c0c0"/><rect x="223" y="399" width="1" height="2" fill="#c0c0c0"/><rect x="228" y="293" width="1" height="2" fill="#c0c0c0"/><rect x="228" y="304" width="1" height="2" fill="#c0c0c0"/><rect x="228" y="399" width="1" height="2" fill="#c0c0c0"/><rect x="233" y="293" width="1" height="2" fill="#c0c0c0"/><rect x="233" y="304" width="1" height="2" fill="#c0c0c0"/><rect x="233" y="399" width="1" height="2" fill="#c0c0c0"/><rect x="238" y="293" width="1" height="2" fill="#c0c0c0"/><rect x="238" y="304" width="1" height="2" fill="#c0c0c0"/><rect x="238" y="399" width="1" height="2" fill="#c0c0c0"/><rect x="243" y="293" width="1" height="2" fill="#c0c0c0"/><rect x="243" y="304" width="1" height="2" fill="#c0c0c0"/><rect x="243" y="399" width="1" height="2" fill="#c0c0c0"/><rect x="248" y="293" width="1" height="2" fill="#c0c0c0"/><rect x="248" y="304" width="1" height="2" fill="#c0c0c0"/><rect x="248" y="399" width="1" height="2" fill="#c0c0c0"/><rect x="253" y="293" width="1" height="2" fill="#c0c0c0"/><rect x="253" y="304" width="1" height="2" fill="#c0c0c0"/><rect x="253" y="399" width="1" height="2" fill="#c0c0c0"/><rect x="258" y="293" width="1" height="2" fill="#c0c0c0"/><rect x="258" y="304" width="1" height="2" fill="#c0c0c0"/><rect x="258" y="399" width="1" height="2" fill="#c0c0c0"/><rect x="263" y="293" width="1" height="2" fill="#c0c0c0"/><rect x="263" y="304" width="1" height="2" fill="#c0c0c0"/><rect x="263" y="399" width="1" height="2" fill="#c0c0c0"/><rect x="268" y="293" width="1" height="2" fill="#c0c0c0"/><rect x="268" y="304" width="1" height="2" fill="#c0c0c0"/><rect x="268" y="399" width="1" height="2" fill="#c0c0c0"/><rect x="273" y="293" width="1" height="2" fill="#c0c0c0"/><rect x="273" y="304" width="1" height="2" fill="#c0c0c0"/><rect x="273" y="399" width="1" height="2" fill="#c0c0c0"/><rect x="278" y="293" width="1" height="2" fill="#c0c0c0"/><rect x="278" y="304" width="1" height="2" fill="#c0c0c0"/><rect x="278" y="399" width="1" height="2" fill="#c0c0c0"/><rect x="283" y="293" width="1" height="2" fill="#c0c0c0"/><rect x="283" y="304" width="1" height="2" fill="#c0c0c0"/><rect x="283" y="399" width="1" height="2" fill="#c0c0c0"/><rect x="288" y="293" width="1" height="2" fill="#c0c0c0"/><rect x="288" y="304" width="1" height="2" fill="#c0c0c0"/><rect x="288" y="399" width="1" height="2" fill="#c0c0c0"/><rect x="293" y="293" width="1" height="2" fill="#c0c0c0"/><rect x="293" y="304" width="1" height="2" fill="#c0c0c0"/><rect x="293" y="399" width="1" height="2" fill="#c0c0c0"/><rect x="298" y="293" width="1" height="2" fill="#c0c0c0"/><rect x="298" y="304" width="1" height="2" fill="#c0c0c0"/><rect x="298" y="399" width="1" height="2" fill="#c0c0c0"/><rect x="303" y="293" width="1" height="2" fill="#c0c0c0"/><rect x="303" y="304" width="1" height="2" fill="#c0c0c0"/><rect x="303" y="399" width="1" height="2" fill="#c0c0c0"/><rect x="308" y="293" width="1" height="2" fill="#c0c0c0"/><rect x="308" y="304" width="1" height="2" fill="#c0c0c0"/><rect x="308" y="399" width="1" height="2" fill="#c0c0c0"/><rect x="313" y="293" width="1" height="2" fill="#c0c0c0"/><rect x="313" y="304" width="1" height="2" fill="#c0c0c0"/><rect x="313" y="399" width="1" height="2" fill="#c0c0c0"/><rect x="318" y="293" width="1" height="2" fill="#c0c0c0"/><rect x="318" y="304" width="1" height="2" fill="#c0c0c0"/><rect x="318" y="399" width="1" height="2" fill="#c0c0c0"/><rect x="323" y="293" width="1" height="2" fill="#c0c0c0"/><rect x="323" y="304" width="1" height="2" fill="#c0c0c0"/><rect x="323" y="399" width="1" height="2" fill="#c0c0c0"/><rect x="328" y="293" width="1" height="2" fill="#c0c0c0"/><rect x="328" y="304" width="1" height="2" fill="#c0c0c0"/><rect x="328" y="399" width="1" height="2" fill="#c0c0c0"/><rect x="333" y="293" width="1" height="2" fill="#c0c0c0"/><rect x="333" y="304" width="1" height="2" fill="#c0c0c0"/><rect x="333" y="399" width="1" height="2" fill="#c0c0c0"/><rect x="338" y="293" width="1" height="2" fill="#c0c0c0"/><rect x="338" y="304" width="1" height="2" fill="#c0c0c0"/><rect x="338" y="399" width="1" height="2" fill="#c0c0c0"/><rect x="343" y="293" width="1" height="2" fill="#c0c0c0"/><rect x="343" y="304" width="1" height="2" fill="#c0c0c0"/><rect x="343" y="399" width="1" height="2" fill="#c0c0c0"/><rect x="348" y="293" width="1" height="2" fill="#c0c0c0"/><rect x="348" y="304" width="1" height="2" fill="#c0c0c0"/><rect x="348" y="399" width="1" height="2" fill="#c0c0c0"/><rect x="353" y="293" width="1" height="2" fill="#c0c0c0"/><rect x="353" y="304" width="1" height="2" fill="#c0c0c0"/><rect x="353" y="399" width="1" height="2" fill="#c0c0c0"/><rect x="358" y="293" width="1" height="2" fill="#c0c0c0"/><rect x="358" y="304" width="1" height="2" fill="#c0c0c0"/><rect x="358" y="399" width="1" height="2" fill="#c0c0c0"/><rect x="363" y="293" width="1" height="2" fill="#c0c0c0"/><rect x="363" y="304" width="1" height="2" fill="#c0c0c0"/><rect x="363" y="399" width="1" height="2" fill="#c0c0c0"/><rect x="368" y="293" width="1" height="2" fill="#c0c0c0"/><rect x="368" y="304" width="1" height="2" fill="#c0c0c0"/><rect x="368" y="399" width="1" height="2" fill="#c0c0c0"/><rect x="373" y="293" width="1" height="2" fill="#c0c0c0"/><rect x="373" y="304" width="1" height="2" fill="#c0c0c0"/><rect x="373" y="399" width="1" height="2" fill="#c0c0c0"/><rect x="378" y="293" width="1" height="2" fill="#c0c0c0"/><rect x="378" y="304" width="1" height="2" fill="#c0c0c0"/><rect x="378" y="399" width="1" height="2" fill="#c0c0c0"/><rect x="383" y="293" width="1" height="2" fill="#c0c0c0"/><rect x="383" y="304" width="1" height="2" fill="#c0c0c0"/><rect x="383" y="399" width="1" height="2" fill="#c0c0c0"/><rect x="388" y="293" width="1" height="2" fill="#c0c0c0"/><rect x="388" y="304" width="1" height="2" fill="#c0c0c0"/><rect x="388" y="399" width="1" height="2" fill="#c0c0c0"/><rect x="393" y="293" width="1" height="2" fill="#c0c0c0"/><rect x="393" y="304" width="1" height="2" fill="#c0c0c0"/><rect x="393" y="399" width="1" height="2" fill="#c0c0c0"/><rect x="398" y="293" width="1" height="2" fill="#c0c0c0"/><rect x="398" y="304" width="1" height="2" fill="#c0c0c0"/><rect x="398" y="399" width="1" height="2" fill="#c0c0c0"/><rect x="403" y="293" width="1" height="2" fill="#c0c0c0"/><rect x="403" y="304" width="1" height="2" fill="#c0c0c0"/><rect x="403" y="399" width="1" height="2" fill="#c0c0c0"/><rect x="408" y="293" width="1" height="2" fill="#c0c0c0"/><rect x="408" y="304" width="1" height="2" fill="#c0c0c0"/><rect x="408" y="399" width="1" height="2" fill="#c0c0c0"/><rect x="413" y="293" width="1" height="2" fill="#c0c0c0"/><rect x="413" y="304" width="1" height="2" fill="#c0c0c0"/><rect x="413" y="399" width="1" height="2" fill="#c0c0c0"/><rect x="418" y="293" width="1" height="2" fill="#c0c0c0"/><rect x="418" y="304" width="1" height="2" fill="#c0c0c0"/><rect x="418" y="399" width="1" height="2" fill="#c0c0c0"/><rect x="423" y="293" width="1" height="2" fill="#c0c0c0"/><rect x="423" y="304" width="1" height="2" fill="#c0c0c0"/><rect x="423" y="399" width="1" height="2" fill="#c0c0c0"/><rect x="428" y="293" width="1" height="2" fill="#c0c0c0"/><rect x="428" y="304" width="1" height="2" fill="#c0c0c0"/><rect x="428" y="399" width="1" height="2" fill="#c0c0c0"/><rect x="433" y="293" width="1" height="2" fill="#c0c0c0"/><rect x="433" y="304" width="1" height="2" fill="#c0c0c0"/><rect x="433" y="399" width="1" height="2" fill="#c0c0c0"/><rect x="438" y="293" width="1" height="2" fill="#c0c0c0"/><rect x="438" y="304" width="1" height="2" fill="#c0c0c0"/><rect x="438" y="399" width="1" height="2" fill="#c0c0c0"/><rect x="443" y="293" width="1" height="2" fill="#c0c0c0"/><rect x="443" y="304" width="1" height="2" fill="#c0c0c0"/><rect x="443" y="399" width="1" height="2" fill="#c0c0c0"/><rect x="448" y="293" width="1" height="2" fill="#c0c0c0"/><rect x="448" y="304" width="1" height="2" fill="#c0c0c0"/><rect x="448" y="399" width="1" height="2" fill="#c0c0c0"/><rect x="453" y="293" width="1" height="2" fill="#c0c0c0"/><rect x="453" y="304" width="1" height="2" fill="#c0c0c0"/><rect x="453" y="399" width="1" height="2" fill="#c0c0c0"/><rect x="458" y="293" width="1" height="2" fill="#c0c0c0"/><rect x="458" y="304" width="1" height="2" fill="#c0c0c0"/><rect x="458" y="399" width="1" height="2" fill="#c0c0c0"/><rect x="463" y="293" width="1" height="2" fill="#c0c0c0"/><rect x="463" y="304" width="1" height="2" fill="#c0c0c0"/><rect x="463" y="399" width="1" height="2" fill="#c0c0c0"/><rect x="468" y="293" width="1" height="2" fill="#c0c0c0"/><rect x="468" y="304" width="1" height="2" fill="#c0c0c0"/><rect x="468" y="399" width="1" height="2" fill="#c0c0c0"/><rect x="473" y="293" width="1" height="2" fill="#c0c0c0"/><rect x="473" y="304" width="1" height="2" fill="#c0c0c0"/><rect x="473" y="399" width="1" height="2" fill="#c0c0c0"/><rect x="478" y="293" width="1" height="2" fill="#c0c0c0"/><rect x="478" y="304" width="1" height="2" fill="#c0c0c0"/><rect x="478" y="399" width="1" height="2" fill="#c0c0c0"/><rect x="483" y="293" width="1" height="2" fill="#c0c0c0"/><rect x="483" y="304" width="1" height="2" fill="#c0c0c0"/><rect x="483" y="399" width="1" height="2" fill="#c0c0c0"/><rect x="488" y="293" width="1" height="2" fill="#c0c0c0"/><rect x="488" y="304" width="1" height="2" fill="#c0c0c0"/><rect x="488" y="399" width="1" height="2" fill="#c0c0c0"/><rect x="493" y="293" width="1" height="2" fill="#c0c0c0"/><rect x="493" y="304" width="1" height="2" fill="#c0c0c0"/><rect x="493" y="399" width="1" height="2" fill="#c0c0c0"/><rect x="498" y="293" width="1" height="2" fill="#c0c0c0"/><rect x="498" y="304" width="1" height="2" fill="#c0c0c0"/><rect x="498" y="399" width="1" height="2" fill="#c0c0c0"/><rect x="503" y="293" width="1" height="2" fill="#c0c0c0"/><rect x="503" y="304" width="1" height="2" fill="#c0c0c0"/><rect x="503" y="399" width="1" height="2" fill="#c0c0c0"/><rect x="508" y="293" width="1" height="2" fill="#c0c0c0"/><rect x="508" y="304" width="1" height="2" fill="#c0c0c0"/><rect x="508" y="399" width="1" height="2" fill="#c0c0c0"/><rect x="513" y="293" width="1" height="2" fill="#c0c0c0"/><rect x="513" y="304" width="1" height="2" fill="#c0c0c0"/><rect x="513" y="399" width="1" height="2" fill="#c0c0c0"/><rect x="518" y="293" width="1" height="2" fill="#c0c0c0"/><rect x="518" y="304" width="1" height="2" fill="#c0c0c0"/><rect x="518" y="399" width="1" height="2" fill="#c0c0c0"/><rect x="523" y="293" width="1" height="2" fill="#c0c0c0"/><rect x="523" y="304" width="1" height="2" fill="#c0c0c0"/><rect x="523" y="399" width="1" height="2" fill="#c0c0c0"/><rect x="528" y="293" width="1" height="2" fill="#c0c0c0"/><rect x="528" y="304" width="1" height="2" fill="#c0c0c0"/><rect x="528" y="399" width="1" height="2" fill="#c0c0c0"/><rect x="533" y="293" width="1" height="2" fill="#c0c0c0"/><rect x="533" y="304" width="1" height="2" fill="#c0c0c0"/><rect x="533" y="399" width="1" height="2" fill="#c0c0c0"/><rect x="538" y="293" width="1" height="2" fill="#c0c0c0"/><rect x="538" y="304" width="1" height="2" fill="#c0c0c0"/><rect x="538" y="399" width="1" height="2" fill="#c0c0c0"/><rect x="543" y="293" width="1" height="2" fill="#c0c0c0"/><rect x="543" y="304" width="1" height="2" fill="#c0c0c0"/><rect x="543" y="399" width="1" height="2" fill="#c0c0c0"/><rect x="548" y="293" width="1" height="2" fill="#c0c0c0"/><rect x="548" y="304" width="1" height="2" fill="#c0c0c0"/><rect x="548" y="399" width="1" height="2" fill="#c0c0c0"/><rect x="553" y="293" width="1" height="2" fill="#c0c0c0"/><rect x="553" y="304" width="1" height="2" fill="#c0c0c0"/><rect x="553" y="399" width="1" height="2" fill="#c0c0c0"/><rect x="558" y="293" width="1" height="2" fill="#c0c0c0"/><rect x="558" y="304" width="1" height="2" fill="#c0c0c0"/><rect x="558" y="399" width="1" height="2" fill="#c0c0c0"/><rect x="563" y="293" width="1" height="2" fill="#c0c0c0"/><rect x="563" y="304" width="1" height="2" fill="#c0c0c0"/><rect x="563" y="399" width="1" height="2" fill="#c0c0c0"/><rect x="568" y="293" width="1" height="2" fill="#c0c0c0"/><rect x="568" y="304" width="1" height="2" fill="#c0c0c0"/><rect x="568" y="399" width="1" height="2" fill="#c0c0c0"/><rect x="573" y="293" width="1" height="2" fill="#c0c0c0"/><rect x="573" y="304" width="1" height="2" fill="#c0c0c0"/><rect x="573" y="399" width="1" height="2" fill="#c0c0c0"/><rect x="578" y="293" width="1" height="2" fill="#c0c0c0"/><rect x="578" y="304" width="1" height="2" fill="#c0c0c0"/><rect x="578" y="399" width="1" height="2" fill="#c0c0c0"/><rect x="583" y="293" width="1" height="2" fill="#c0c0c0"/><rect x="583" y="304" width="1" height="2" fill="#c0c0c0"/><rect x="583" y="399" width="1" height="2" fill="#c0c0c0"/><rect x="588" y="293" width="1" height="2" fill="#c0c0c0"/><rect x="588" y="304" width="1" height="2" fill="#c0c0c0"/><rect x="588" y="399" width="1" height="2" fill="#c0c0c0"/><rect x="593" y="293" width="1" height="2" fill="#c0c0c0"/><rect x="593" y="304" width="1" height="2" fill="#c0c0c0"/><rect x="593" y="399" width="1" height="2" fill="#c0c0c0"/><rect x="598" y="293" width="1" height="2" fill="#c0c0c0"/><rect x="598" y="304" width="1" height="2" fill="#c0c0c0"/><rect x="598" y="399" width="1" height="2" fill="#c0c0c0"/><rect x="18" y="379" width="587" height="1" fill="#e0e0e0"/><rect x="18" y="360" width="587" height="1" fill="#e0e0e0"/><rect x="18" y="341" width="587" height="1" fill="#e0e0e0"/><rect x="18" y="323" width="587" height="1" fill="#e0e0e0"/><rect x="33" y="307" width="1" height="91" fill="#dadada"/><rect x="58" y="307" width="1" height="91" fill="#dadada"/><rect x="83" y="307" width="1" height="91" fill="#dadada"/><rect x="108" y="307" width="1" height="91" fill="#dadada"/><rect x="133" y="307" width="1" height="91" fill="#dadada"/><rect x="153" y="307" width="1" height="91" fill="#dadada"/><rect x="178" y="307" width="1" height="91" fill="#dadada"/><rect x="203" y="307" width="1" height="91" fill="#dadada"/><rect x="253" y="307" width="1" height="91" fill="#dadada"/><rect x="278" y="307" width="1" height="91" fill="#dadada"/><rect x="303" y="307" width="1" height="91" fill="#dadada"/><rect x="328" y="307" width="1" height="91" fill="#dadada"/><rect x="353" y="307" width="1" height="91" fill="#dadada"/><rect x="373" y="307" width="1" height="91" fill="#dadada"/><rect x="398" y="307" width="1" height="91" fill="#dadada"/><rect x="423" y="307" width="1" height="91" fill="#dadada"/><rect x="473" y="307" width="1" height="91" fill="#dadada"/><rect x="498" y="307" width="1" height="91" fill="#dadada"/><rect x="523" y="307" width="1" height="91" fill="#dadada"/><rect x="548" y="307" width="1" height="91" fill="#dadada"/><rect x="573" y="307" width="1" height="91" fill="#dadada"/><rect x="598" y="307" width="1" height="91" fill="#dadada"/><rect x="128" y="307" width="1" height="91" fill="#c4c4c4"/><rect x="228" y="307" width="1" height="91" fill="#c4c4c4"/><rect x="343" y="307" width="1" height="91" fill="#c4c4c4"/><rect x="448" y="307" width="1" height="91" fill="#c4c4c4"/><rect x="553" y="307" width="1" height="91" fill="#c4c4c4"/><rect x="17.5" y="360.5" width="4.0" height="38.0" fill="#8c8c8c" stroke="#505050" stroke-width="1"/><rect x="21.5" y="363.5" width="5.0" height="35.0" fill="#8c8c8c" stroke="#505050" stroke-width="1"/><rect x="26.5" y="359.5" width="5.0" height="39.0" fill="#d8848e" stroke="#c23a4c" stroke-width="1"/><rect x="31.5" y="363.5" width="5.0" height="35.0" fill="#8c8c8c" stroke="#505050" stroke-width="1"/><rect x="36.5" y="361.5" width="5.0" height="37.0" fill="#8c8c8c" stroke="#505050" stroke-width="1"/><rect x="41.5" y="364.5" width="5.0" height="34.0" fill="#8c8c8c" stroke="#505050" stroke-width="1"/><rect x="46.5" y="363.5" width="5.0" height="35.0" fill="#d8848e" stroke="#c23a4c" stroke-width="1"/><rect x="51.5" y="359.5" width="5.0" height="39.0" fill="#d8848e" stroke="#c23a4c" stroke-width="1"/><rect x="56.5" y="360.5" width="5.0" height="38.0" fill="#d8848e" stroke="#c23a4c" stroke-width="1"/><rect x="61.5" y="357.5" width="5.0" height="41.0" fill="#d8848e" stroke="#c23a4c" stroke-width="1"/><rect x="66.5" y="359.5" width="5.0" height="39.0" fill="#d8848e" stroke="#c23a4c" stroke-width="1"/><rect x="71.5" y="359.5" width="5.0" height="39.0" fill="#8c8c8c" stroke="#505050" stroke-width="1"/><rect x="76.5" y="344.5" width="5.0" height="54.0" fill="#d8848e" stroke="#c23a4c" stroke-width="1"/><rect x="81.5" y="358.5" width="5.0" height="40.0" fill="#8c8c8c" stroke="#505050" stroke-width="1"/><rect x="86.5" y="361.5" width="5.0" height="37.0" fill="#8c8c8c" stroke="#505050" stroke-width="1"/><rect x="91.5" y="363.5" width="5.0" height="35.0" fill="#d8848e" stroke="#c23a4c" stroke-width="1"/><rect x="96.5" y="361.5" width="5.0" height="37.0" fill="#8c8c8c" stroke="#505050" stroke-width="1"/><rect x="101.5" y="330.5" width="5.0" height="68.0" fill="#d8848e" stroke="#c23a4c" stroke-width="1"/><rect x="106.5" y="335.5" width="5.0" height="63.0" fill="#d8848e" stroke="#c23a4c" stroke-width="1"/><rect x="111.5" y="347.5" width="5.0" height="51.0" fill="#8c8c8c" stroke="#505050" stroke-width="1"/><rect x="116.5" y="350.5" width="5.0" height="48.0" fill="#8c8c8c" stroke="#505050" stroke-width="1"/><rect x="121.5" y="345.5" width="5.0" height="53.0" fill="#8c8c8c" stroke="#505050" stroke-width="1"/><rect x="126.5" y="359.5" width="5.0" height="39.0" fill="#8c8c8c" stroke="#505050" stroke-width="1"/><rect x="131.5" y="358.5" width="5.0" height="40.0" fill="#d8848e" stroke="#c23a4c" stroke-width="1"/><rect x="136.5" y="355.5" width="5.0" height="43.0" fill="#8c8c8c" stroke="#505050" stroke-width="1"/><rect x="141.5" y="359.5" width="5.0" height="39.0" fill="#d8848e" stroke="#c23a4c" stroke-width="1"/><rect x="146.5" y="358.5" width="5.0" height="40.0" fill="#8c8c8c" stroke="#505050" stroke-width="1"/><rect x="151.5" y="363.5" width="5.0" height="35.0" fill="#8c8c8c" stroke="#505050" stroke-width="1"/><rect x="156.5" y="356.5" width="5.0" height="42.0" fill="#8c8c8c" stroke="#505050" stroke-width="1"/><rect x="161.5" y="363.5" width="5.0" height="35.0" fill="#8c8c8c" stroke="#505050" stroke-width="1"/><rect x="166.5" y="359.5" width="5.0" height="39.0" fill="#8c8c8c" stroke="#505050" stroke-width="1"/><rect x="171.5" y="361.5" width="5.0" height="37.0" fill="#d8848e" stroke="#c23a4c" stroke-width="1"/><rect x="176.5" y="363.5" width="5.0" height="35.0" fill="#8c8c8c" stroke="#505050" stroke-width="1"/><rect x="181.5" y="362.5" width="5.0" height="36.0" fill="#d8848e" stroke="#c23a4c" stroke-width="1"/><rect x="186.5" y="359.5" width="5.0" height="39.0" fill="#8c8c8c" stroke="#505050" stroke-width="1"/><rect x="191.5" y="357.5" width="5.0" height="41.0" fill="#d8848e" stroke="#c23a4c" stroke-width="1"/><rect x="196.5" y="361.5" width="5.0" height="37.0" fill="#8c8c8c" stroke="#505050" stroke-width="1"/><rect x="201.5" y="363.5" width="5.0" height="35.0" fill="#d8848e" stroke="#c23a4c" stroke-width="1"/><rect x="206.5" y="358.5" width="5.0" height="40.0" fill="#8c8c8c" stroke="#505050" stroke-width="1"/><rect x="211.5" y="351.5" width="5.0" height="47.0" fill="#d8848e" stroke="#c23a4c" stroke-width="1"/><rect x="216.5" y="358.5" width="5.0" height="40.0" fill="#8c8c8c" stroke="#505050" stroke-width="1"/><rect x="221.5" y="352.5" width="5.0" height="46.0" fill="#8c8c8c" stroke="#505050" stroke-width="1"/><rect x="226.5" y="358.5" width="5.0" height="40.0" fill="#d8848e" stroke="#c23a4c" stroke-width="1"/><rect x="231.5" y="353.5" width="5.0" height="45.0" fill="#d8848e" stroke="#c23a4c" stroke-width="1"/><rect x="236.5" y="358.5" width="5.0" height="40.0" fill="#8c8c8c" stroke="#505050" stroke-width="1"/><rect x="241.5" y="360.5" width="5.0" height="38.0" fill="#8c8c8c" stroke="#505050" stroke-width="1"/><rect x="246.5" y="357.5" width="5.0" height="41.0" fill="#8c8c8c" stroke="#505050" stroke-width="1"/><rect x="251.5" y="363.5" width="5.0" height="35.0" fill="#d8848e" stroke="#c23a4c" stroke-width="1"/><rect x="256.5" y="366.5" width="5.0" height="32.0" fill="#8c8c8c" stroke="#505050" stroke-width="1"/><rect x="261.5" y="365.5" width="5.0" height="33.0" fill="#d8848e" stroke="#c23a4c" stroke-width="1"/><rect x="266.5" y="363.5" width="5.0" height="35.0" fill="#8c8c8c" stroke="#505050" stroke-width="1"/><rect x="271.5" y="367.5" width="5.0" height="31.0" fill="#d8848e" stroke="#c23a4c" stroke-width="1"/><rect x="276.5" y="366.5" width="5.0" height="32.0" fill="#8c8c8c" stroke="#505050" stroke-width="1"/><rect x="281.5" y="363.5" width="5.0" height="35.0" fill="#d8848e" stroke="#c23a4c" stroke-width="1"/><rect x="286.5" y="359.5" width="5.0" height="39.0" fill="#8c8c8c" stroke="#505050" stroke-width="1"/><rect x="291.5" y="360.5" width="5.0" height="38.0" fill="#8c8c8c" stroke="#505050" stroke-width="1"/><rect x="296.5" y="362.5" width="5.0" height="36.0" fill="#d8848e" stroke="#c23a4c" stroke-width="1"/><rect x="301.5" y="367.5" width="5.0" height="31.0" fill="#d8848e" stroke="#c23a4c" stroke-width="1"/><rect x="306.5" y="365.5" width="5.0" height="33.0" fill="#8c8c8c" stroke="#505050" stroke-width="1"/><rect x="311.5" y="364.5" width="5.0" height="34.0" fill="#d8848e" stroke="#c23a4c" stroke-width="1"/><rect x="316.5" y="363.5" width="5.0" height="35.0" fill="#d8848e" stroke="#c23a4c" stroke-width="1"/><rect x="321.5" y="363.5" width="5.0" height="35.0" fill="#d8848e" stroke="#c23a4c" stroke-width="1"/><rect x="326.5" y="368.5" width="5.0" height="30.0" fill="#8c8c8c" stroke="#505050" stroke-width="1"/><rect x="331.5" y="365.5" width="5.0" height="33.0" fill="#d8848e" stroke="#c23a4c" stroke-width="1"/><rect x="336.5" y="359.5" width="5.0" height="39.0" fill="#d8848e" stroke="#c23a4c" stroke-width="1"/><rect x="341.5" y="361.5" width="5.0" height="37.0" fill="#d8848e" stroke="#c23a4c" stroke-width="1"/><rect x="346.5" y="365.5" width="5.0" height="33.0" fill="#8c8c8c" stroke="#505050" stroke-width="1"/><rect x="351.5" y="360.5" width="5.0" height="38.0" fill="#8c8c8c" stroke="#505050" stroke-width="1"/><rect x="356.5" y="361.5" width="5.0" height="37.0" fill="#d8848e" stroke="#c23a4c" stroke-width="1"/><rect x="361.5" y="357.5" width="5.0" height="41.0" fill="#d8848e" stroke="#c23a4c" stroke-width="1"/><rect x="366.5" y="349.5" width="5.0" height="49.0" fill="#d8848e" stroke="#c23a4c" stroke-width="1"/><rect x="371.5" y="351.5" width="5.0" height="47.0" fill="#8c8c8c" stroke="#505050" stroke-width="1"/><rect x="376.5" y="351.5" width="5.0" height="47.0" fill="#d8848e" stroke="#c23a4c" stroke-width="1"/><rect x="381.5" y="355.5" width="5.0" height="43.0" fill="#d8848e" stroke="#c23a4c" stroke-width="1"/><rect x="386.5" y="357.5" width="5.0" height="41.0" fill="#8c8c8c" stroke="#505050" stroke-width="1"/><rect x="391.5" y="338.5" width="5.0" height="60.0" fill="#d8848e" stroke="#c23a4c" stroke-width="1"/><rect x="396.5" y="361.5" width="5.0" height="37.0" fill="#d8848e" stroke="#c23a4c" stroke-width="1"/><rect x="401.5" y="363.5" width="5.0" height="35.0" fill="#8c8c8c" stroke="#505050" stroke-width="1"/><rect x="406.5" y="356.5" width="5.0" height="42.0" fill="#8c8c8c" stroke="#505050" stroke-width="1"/><rect x="411.5" y="359.5" width="5.0" height="39.0" fill="#8c8c8c" stroke="#505050" stroke-width="1"/><rect x="416.5" y="362.5" width="5.0" height="36.0" fill="#d8848e" stroke="#c23a4c" stroke-width="1"/><rect x="421.5" y="362.5" width="5.0" height="36.0" fill="#d8848e" stroke="#c23a4c" stroke-width="1"/><rect x="426.5" y="361.5" width="5.0" height="37.0" fill="#8c8c8c" stroke="#505050" stroke-width="1"/><rect x="431.5" y="357.5" width="5.0" height="41.0" fill="#8c8c8c" stroke="#505050" stroke-width="1"/><rect x="436.5" y="352.5" width="5.0" height="46.0" fill="#d8848e" stroke="#c23a4c" stroke-width="1"/><rect x="441.5" y="347.5" width="5.0" height="51.0" fill="#8c8c8c" stroke="#505050" stroke-width="1"/><rect x="446.5" y="364.5" width="5.0" height="34.0" fill="#d8848e" stroke="#c23a4c" stroke-width="1"/><rect x="451.5" y="358.5" width="5.0" height="40.0" fill="#d8848e" stroke="#c23a4c" stroke-width="1"/><rect x="456.5" y="355.5" width="5.0" height="43.0" fill="#8c8c8c" stroke="#505050" stroke-width="1"/><rect x="461.5" y="361.5" width="5.0" height="37.0" fill="#8c8c8c" stroke="#505050" stroke-width="1"/><rect x="466.5" y="358.5" width="5.0" height="40.0" fill="#d8848e" stroke="#c23a4c" stroke-width="1"/><rect x="471.5" y="365.5" width="5.0" height="33.0" fill="#8c8c8c" stroke="#505050" stroke-width="1"/><rect x="476.5" y="358.5" width="5.0" height="40.0" fill="#d8848e" stroke="#c23a4c" stroke-width="1"/><rect x="481.5" y="364.5" width="5.0" height="34.0" fill="#8c8c8c" stroke="#505050" stroke-width="1"/><rect x="486.5" y="358.5" width="5.0" height="40.0" fill="#d8848e" stroke="#c23a4c" stroke-width="1"/><rect x="491.5" y="361.5" width="5.0" height="37.0" fill="#8c8c8c" stroke="#505050" stroke-width="1"/><rect x="496.5" y="365.5" width="5.0" height="33.0" fill="#d8848e" stroke="#c23a4c" stroke-width="1"/><rect x="501.5" y="362.5" width="5.0" height="36.0" fill="#8c8c8c" stroke="#505050" stroke-width="1"/><rect x="506.5" y="358.5" width="5.0" height="40.0" fill="#8c8c8c" stroke="#505050" stroke-width="1"/><rect x="511.5" y="356.5" width="5.0" height="42.0" fill="#d8848e" stroke="#c23a4c" stroke-width="1"/><rect x="516.5" y="354.5" width="5.0" height="44.0" fill="#d8848e" stroke="#c23a4c" stroke-width="1"/><rect x="521.5" y="360.5" width="5.0" height="38.0" fill="#8c8c8c" stroke="#505050" stroke-width="1"/><rect x="526.5" y="356.5" width="5.0" height="42.0" fill="#d8848e" stroke="#c23a4c" stroke-width="1"/><rect x="531.5" y="355.5" width="5.0" height="43.0" fill="#d8848e" stroke="#c23a4c" stroke-width="1"/><rect x="536.5" y="352.5" width="5.0" height="46.0" fill="#d8848e" stroke="#c23a4c" stroke-width="1"/><rect x="541.5" y="351.5" width="5.0" height="47.0" fill="#d8848e" stroke="#c23a4c" stroke-width="1"/><rect x="546.5" y="355.5" width="5.0" height="43.0" fill="#d8848e" stroke="#c23a4c" stroke-width="1"/><rect x="551.5" y="350.5" width="5.0" height="48.0" fill="#d8848e" stroke="#c23a4c" stroke-width="1"/><rect x="556.5" y="350.5" width="5.0" height="48.0" fill="#d8848e" stroke="#c23a4c" stroke-width="1"/><rect x="561.5" y="354.5" width="5.0" height="44.0" fill="#d8848e" stroke="#c23a4c" stroke-width="1"/><rect x="566.5" y="354.5" width="5.0" height="44.0" fill="#d8848e" stroke="#c23a4c" stroke-width="1"/><rect x="571.5" y="355.5" width="5.0" height="43.0" fill="#8c8c8c" stroke="#505050" stroke-width="1"/><rect x="576.5" y="358.5" width="5.0" height="40.0" fill="#8c8c8c" stroke="#505050" stroke-width="1"/><rect x="581.5" y="323.5" width="5.0" height="75.0" fill="#8c8c8c" stroke="#505050" stroke-width="1"/><rect x="586.5" y="321.5" width="5.0" height="77.0" fill="#8c8c8c" stroke="#505050" stroke-width="1"/><rect x="591.5" y="343.5" width="5.0" height="55.0" fill="#d8848e" stroke="#c23a4c" stroke-width="1"/><rect x="596.5" y="336.5" width="5.0" height="62.0" fill="#d8848e" stroke="#c23a4c" stroke-width="1"/><polyline fill="none" stroke="#00008c" stroke-width="1.2" points="18.0,356.1 69.0,356.5 95.0,357.1 98.0,357.5 104.0,356.8 108.0,355.4 154.0,355.4 160.0,356.1 203.0,356.1 209.0,358.0 215.0,356.5 225.0,356.1 230.0,357.5 258.0,356.1 262.0,357.3 314.0,357.1 318.0,358.3 351.0,358.5 358.0,360.0 390.0,360.3 393.0,359.4 398.0,360.3 430.0,360.4 432.0,359.7 478.0,359.4 484.0,360.4 505.0,360.4 510.0,359.7 524.0,359.7 540.0,359.7 544.0,358.5 565.0,358.5 570.0,358.1 580.0,357.1 590.0,355.4 598.6,354.1"/><rect x="17.5" y="306.5" width="588" height="92" fill="none" stroke="#a8a8a8" stroke-width="1"/><rect x="606" y="397" width="3" height="1" fill="#a8a8a8"/><rect x="606" y="391" width="2" height="1" fill="#a8a8a8"/><rect x="606" y="385" width="2" height="1" fill="#a8a8a8"/><rect x="606" y="379" width="3" height="1" fill="#a8a8a8"/><rect x="606" y="372" width="2" height="1" fill="#a8a8a8"/><rect x="606" y="366" width="2" height="1" fill="#a8a8a8"/><rect x="606" y="360" width="3" height="1" fill="#a8a8a8"/><rect x="606" y="354" width="2" height="1" fill="#a8a8a8"/><rect x="606" y="348" width="2" height="1" fill="#a8a8a8"/><rect x="606" y="341" width="3" height="1" fill="#a8a8a8"/><rect x="606" y="335" width="2" height="1" fill="#a8a8a8"/><rect x="606" y="329" width="2" height="1" fill="#a8a8a8"/><rect x="606" y="323" width="3" height="1" fill="#a8a8a8"/><rect x="606" y="317" width="2" height="1" fill="#a8a8a8"/><text x="608.7" y="381.8" font-size="9.8" fill="#000" textLength="13.8" lengthAdjust="spacingAndGlyphs">1B</text><text x="608.7" y="363.2" font-size="9.8" fill="#000" textLength="13.8" lengthAdjust="spacingAndGlyphs">2B</text><text x="608.7" y="344.6" font-size="9.8" fill="#000" textLength="13.8" lengthAdjust="spacingAndGlyphs">3B</text><text x="608.7" y="326.0" font-size="9.8" fill="#000" textLength="13.8" lengthAdjust="spacingAndGlyphs">4B</text><rect x="18" y="307" width="143" height="11" fill="#fff"/><rect x="18" y="318" width="109" height="11" fill="#fff"/><g fill="#3a3a3a"><rect x="20" y="312" width="3" height="5"/><rect x="23" y="308" width="3" height="9"/><rect x="26" y="310" width="3" height="7"/></g><g fill="#9a9a9a"><rect x="21" y="313" width="1" height="3"/><rect x="24" y="309" width="1" height="7"/><rect x="27" y="311" width="1" height="5"/></g><text x="33" y="316.4" font-size="9.6" fill="#000" textLength="126.5" lengthAdjust="spacingAndGlyphs">Volume 3,343,702,016</text><rect x="20" y="323" width="9" height="2" fill="#000099"/><text x="30.9" y="327.6" font-size="10" fill="#000090" textLength="94.5" lengthAdjust="spacing">MA(50) 2,327,457,536</text><line x1="589.3" y1="251.5" x2="597.6" y2="320" stroke="#111" stroke-width="1"/><path d="M594.6,319.5 L602,319.5 L598.8,326.7 Z" fill="#000"/><rect x="520" y="214" width="88" height="40" fill="#000" opacity="0.3" filter="url(#blur)"/><rect x="517.5" y="211.5" width="87" height="40" fill="#dce6f2" stroke="#111" stroke-width="1"/><text x="560.5" y="226.8" font-size="13" font-weight="bold" fill="#000" text-anchor="middle" textLength="66" lengthAdjust="spacingAndGlyphs">44% above</text><text x="560.5" y="244.8" font-size="13" font-weight="bold" fill="#000" text-anchor="middle" textLength="67" lengthAdjust="spacingAndGlyphs">50-day MA</text></svg></body></html>
